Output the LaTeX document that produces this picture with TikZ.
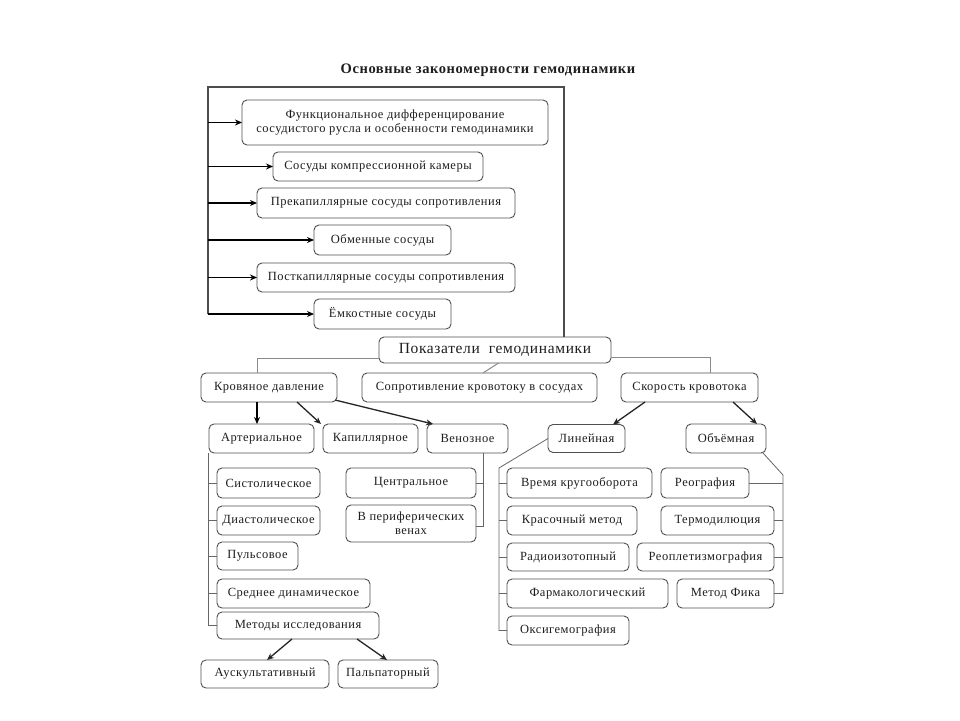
\documentclass[tikz,border=0pt]{standalone}
\usepackage{fontspec}
\setmainfont{Liberation Serif}
\newfontfamily\bodyf[LetterSpace=4]{Liberation Serif}
\usetikzlibrary{arrows.meta}
\definecolor{boxc}{HTML}{505050}
\definecolor{treec}{HTML}{8A8A8A}
\definecolor{txtc}{HTML}{1E1E1E}
\begin{document}
\begin{tikzpicture}[x=1pt,y=-1pt,
  bx/.style={draw=boxc, line width=0.9pt, rounded corners=5pt, inner sep=0pt, outer sep=0pt,
    text=txtc, font=\bodyf\fontsize{12.5pt}{14pt}\selectfont, align=center},
  arr/.style={draw=black, line width=1.6pt, -{Stealth[length=7pt,width=6pt]}},
  arrthin/.style={draw=black!85, line width=1.3pt, -{Stealth[length=7pt,width=6pt]}},
  frame/.style={draw=black!70, line width=1.1pt},
  tree/.style={draw=treec, line width=1pt},
  brk/.style={draw=black!60, line width=0.8pt}]
\useasboundingbox[fill=white] (0,0) rectangle (960,720);

\node[font=\bodyf\bfseries\fontsize{14.5pt}{16pt}\selectfont, text=txtc] (title) at (488,70) {Основные закономерности гемодинамики};

% top section
\node[bx, minimum width=306, minimum height=45] (f1) at (395,122.5) {Функциональное дифференцирование\\сосудистого русла и особенности гемодинамики};
\node[bx, minimum width=210, minimum height=29] (f2) at (378,166.5) {Сосуды компрессионной камеры};
\node[bx, minimum width=258, minimum height=30] (f3) at (386,203) {Прекапиллярные сосуды сопротивления};
\node[bx, minimum width=137, minimum height=30] (f4) at (382.5,240) {Обменные сосуды};
\node[bx, minimum width=258, minimum height=29] (f5) at (386,277.5) {Посткапиллярные сосуды сопротивления};
\node[bx, minimum width=137, minimum height=30] (f6) at (382.5,314) {Ёмкостные сосуды};

\node[bx, minimum width=232, minimum height=26, font=\bodyf\fontsize{15.5pt}{17pt}\selectfont] (pk) at (495,350) {Показатели\ \ гемодинамики};

\coordinate (L) at (208,87);
\coordinate (R) at (564,87);
\draw[frame] (L |- f6.west) -- (L) -- (R) -- (R |- pk.north);
\foreach \n in {f1,f2,f3,f4,f5,f6}{\draw[arr] (L |- \n.west) -- (\n.west);}

% row 2
\node[bx, minimum width=136, minimum height=29] (kd) at (269,387.5) {Кровяное давление};
\node[bx, minimum width=235, minimum height=29] (sk) at (479.5,387.5) {Сопротивление кровотоку в сосудах};
\node[bx, minimum width=137, minimum height=29] (sv) at (689.5,387.5) {Скорость кровотока};

\draw[tree] ([yshift=-8pt]pk.west) -| ([xshift=-12pt]kd.north);
\draw[tree] ([yshift=-7pt]pk.east) -| ([xshift=20.5pt]sv.north);
\draw[tree] ([xshift=3.5pt]pk.south) -- ([xshift=3.5pt]sk.north);

% row 3
\node[bx, minimum width=105, minimum height=29] (ar) at (261.5,438.5) {Артериальное};
\node[bx, minimum width=95, minimum height=29] (kp) at (370.5,438.5) {Капиллярное};
\node[bx, minimum width=81, minimum height=29] (vn) at (467.5,438.5) {Венозное};
\node[bx, minimum width=77, minimum height=28] (ln) at (586.5,438.5) {Линейная};
\node[bx, minimum width=80, minimum height=29] (ob) at (726,438.5) {Объёмная};

\draw[arr, line width=2.2pt] ([xshift=-12pt]kd.south) -- ([xshift=-4.5pt]ar.north);
\draw[arrthin] ([xshift=28pt]kd.south) -- ([xshift=-49.5pt]kp.north);
\draw[arrthin] ([xshift=66pt,yshift=2pt]kd.south) -- ([xshift=-34.5pt]vn.north);
\draw[arrthin] ([xshift=-44.5pt]sv.south) -- ([xshift=26.5pt]ln.north);
\draw[arrthin] ([xshift=43.5pt]sv.south) -- ([xshift=31pt]ob.north);

% venous group
\node[bx, minimum width=130, minimum height=30] (ce) at (411,483) {Центральное};
\node[bx, minimum width=130, minimum height=37] (pv) at (411,523.5) {В периферических\\венах};
\coordinate (vb) at (483,526);
\draw[brk] (vb |- vn.south) -- (vb) -- (vb -| pv.east);
\draw[brk] (ce.east) -- (ce.east -| vb);

% arterial group
\node[bx, minimum width=103, minimum height=30] (sy) at (268.5,483) {Систолическое};
\node[bx, minimum width=103, minimum height=29] (di) at (268.5,520.5) {Диастолическое};
\node[bx, minimum width=81, minimum height=28] (pu) at (257.5,556) {Пульсовое};
\node[bx, minimum width=153, minimum height=29] (sd) at (293.5,593.5) {Среднее динамическое};
\node[bx, minimum width=162, minimum height=27] (mi) at (298,625.5) {Методы исследования};
\coordinate (ab) at (208,0);
\draw[brk] (ab |- ar.south) -- (ab |- mi.west) -- (mi.west);
\foreach \n in {sy,di,pu,sd}{\draw[brk] (ab |- \n.west) -- (\n.west);}

\node[bx, minimum width=128, minimum height=28] (au) at (265,674) {Аускультативный};
\node[bx, minimum width=100, minimum height=28] (pa) at (388,674) {Пальпаторный};
\draw[arrthin] ([xshift=-6pt]mi.south) -- ([xshift=2pt]au.north);
\draw[arrthin] ([xshift=59pt]mi.south) -- ([xshift=-1pt]pa.north);

% linear group
\node[bx, minimum width=145, minimum height=30] (vk) at (579.5,483) {Время кругооборота};
\node[bx, minimum width=130, minimum height=29] (km) at (572,520.5) {Красочный метод};
\node[bx, minimum width=122, minimum height=28] (ri) at (568,557) {Радиоизотопный};
\node[bx, minimum width=161, minimum height=29] (fa) at (587.5,593.5) {Фармакологический};
\node[bx, minimum width=122, minimum height=29] (ok) at (568,630.5) {Оксигемография};
\coordinate (lb) at (499,468);
\draw[brk] (ln.west) -- (lb) -- (lb |- ok.west) -- (ok.west);
\foreach \n in {vk,km,ri,fa}{\draw[brk] (lb |- \n.west) -- (\n.west);}

% volume group
\node[bx, minimum width=88, minimum height=30] (rg) at (705,483) {Реография};
\node[bx, minimum width=113, minimum height=29] (td) at (717.5,520.5) {Термодилюция};
\node[bx, minimum width=137, minimum height=28] (rp) at (705.5,557) {Реоплетизмография};
\node[bx, minimum width=97, minimum height=29] (mf) at (725.5,593.5) {Метод Фика};
\coordinate (rb) at (783,475);
\draw[brk] ([xshift=-3pt]ob.south east) -- (rb) -- (rb |- mf.east) -- (mf.east);
\foreach \n in {rg,td,rp}{\draw[brk] (\n.east) -- (\n.east -| rb);}
\end{tikzpicture}
\end{document}
